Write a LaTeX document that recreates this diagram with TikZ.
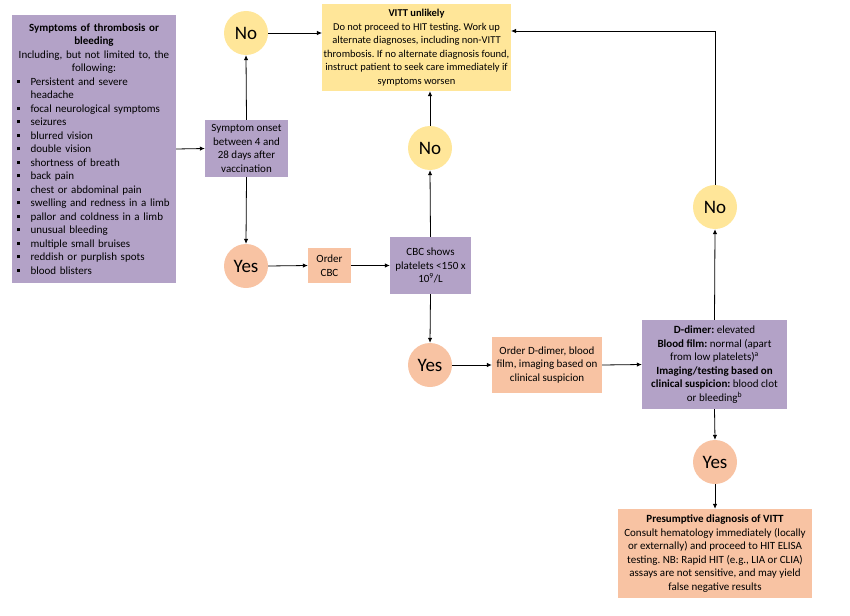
\documentclass[tikz,border=0pt]{standalone}
\usepackage{fontspec}
\setmainfont{Carlito}
\usetikzlibrary{arrows.meta}
\frenchspacing

\definecolor{lilac}{HTML}{B3A2C7}
\definecolor{sand}{HTML}{FFE699}
\definecolor{peach}{HTML}{F8C3A3}

\newcommand{\symptom}[1]{\par\noindent
  \makebox[17pt][l]{\hspace{3pt}\rule[2.5pt]{3pt}{3pt}}#1}
\newcommand{\symptommore}[1]{\par\noindent\hspace*{17pt}#1}

\tikzset{
  box/.style={inner sep=1.5pt, align=center, font=\fontsize{11}{13.5}\selectfont},
  lilac box/.style={box, fill=lilac},
  sand box/.style={box, fill=sand},
  peach box/.style={box, fill=peach},
  answer/.style={circle, minimum size=44pt, inner sep=0pt, font=\fontsize{19}{22}\selectfont},
  flow/.style={-{Latex[length=5pt,width=4.5pt]}, line width=.8pt},
}

\begin{document}
\begin{tikzpicture}
  \begin{scope}[x=1pt,y=-1pt]

    \useasboundingbox (0,0) rectangle (850,615);

    \node[lilac box, text width=161pt, minimum height=268pt] (Symptoms) at (94,149)
    { \textbf{Symptoms of thrombosis or\\ bleeding}\\
      Including, but not limited to, the\\ following:\par
      \raggedright
      \symptom{Persistent and severe}
      \symptommore{headache}
      \symptom{focal neurological symptoms}
      \symptom{seizures}
      \symptom{blurred vision}
      \symptom{double vision}
      \symptom{shortness of breath}
      \symptom{back pain}
      \symptom{chest or abdominal pain}
      \symptom{swelling and redness in a limb}
      \symptom{pallor and coldness in a limb}
      \symptom{unusual bleeding}
      \symptom{multiple small bruises}
      \symptom{reddish or purplish spots}
      \symptom{blood blisters}\par};

    \node[lilac box, minimum width=83pt, minimum height=57pt] (Onset) at (246.5,148.5)
      {Symptom onset\\ between 4 and\\ 28 days after\\ vaccination};

    \node[sand box, minimum width=187pt, minimum height=87pt,
      font=\fontsize{10.5}{13.5}\selectfont] (Unlikely) at (416.5,47.5)
    { \textbf{VITT unlikely}\\
      Do not proceed to HIT testing. Work up\\
      alternate diagnoses, including non-VITT\\
      thrombosis. If no alternate diagnosis found,\\
      instruct patient to seek care immediately if\\
      symptoms worsen};

    \node[lilac box, minimum width=81pt, minimum height=57pt] (CBC) at (430.5,265.5)
      {CBC shows\\ platelets <150 x\\ 10\textsuperscript{9}/L};
    \node[peach box, minimum width=43pt, minimum height=35pt] (Order CBC) at (329.5,265.5)
      {Order\\ CBC};
    \node[peach box, minimum width=110pt, minimum height=56pt] (Order tests) at (547,365)
      {Order D-dimer, blood\\ film, imaging based on\\ clinical suspicion};

    \node[lilac box, minimum width=145pt, minimum height=89pt] (Findings) at (714.5,364.5)
    { \textbf{D-dimer:} elevated\\
      \textbf{Blood film:} normal (apart\\
      from low platelets)\textsuperscript{a}\\
      \textbf{Imaging/testing based on}\\
      \textbf{clinical suspicion:} blood clot\\
      or bleeding\textsuperscript{b}};

    \node[peach box, minimum width=194pt, minimum height=89pt] (Presumptive) at (715,553.5)
    { \textbf{Presumptive diagnosis of VITT}\\
      Consult hematology immediately (locally\\
      or externally) and proceed to HIT ELISA\\
      testing. NB: Rapid HIT (e.g., LIA or CLIA)\\
      assays are not sensitive, and may yield\\
      false negative results};

    % yes / no answers
    \node[answer, fill=sand]  (No onset)     at (246,33)  {No};
    \node[answer, fill=sand]  (No CBC)       at (430,148) {No};
    \node[answer, fill=sand]  (No findings)  at (715,207) {No};
    \node[answer, fill=peach] (Yes onset)    at (246,266) {Yes};
    \node[answer, fill=peach] (Yes CBC)      at (430,365) {Yes};
    \node[answer, fill=peach] (Yes findings) at (715,462) {Yes};

    \draw[flow] (Symptoms.east) -- (Onset.west);
    \draw[flow] (Onset.north) -- (No onset.south);
    \draw[flow] (No onset.east) -- (No onset.east -| Unlikely.west);
    \draw[flow] (Onset.south) -- (Yes onset.north);
    \draw[flow] (Yes onset.east) -- (Order CBC.west);
    \draw[flow] (Order CBC.east) -- (CBC.west);
    \draw[flow] (CBC.north) -- (No CBC.south);
    \draw[flow] (No CBC.north) -- (No CBC.north |- Unlikely.south);
    \draw[flow] (CBC.south) -- (Yes CBC.north);
    \draw[flow] (Yes CBC.east) -- (Order tests.west);
    \draw[flow] (Order tests.east) -- (Findings.west);
    \draw[flow] (Findings.north) -- (No findings.south);
    \draw[flow] (No findings.north) |- ([yshift=16.5pt]Unlikely.east);
    \draw[flow] (Findings.south) -- (Yes findings.north);
    \draw[flow] (Yes findings.south) -- (Presumptive.north);
  \end{scope}
\end{tikzpicture}
\end{document}
